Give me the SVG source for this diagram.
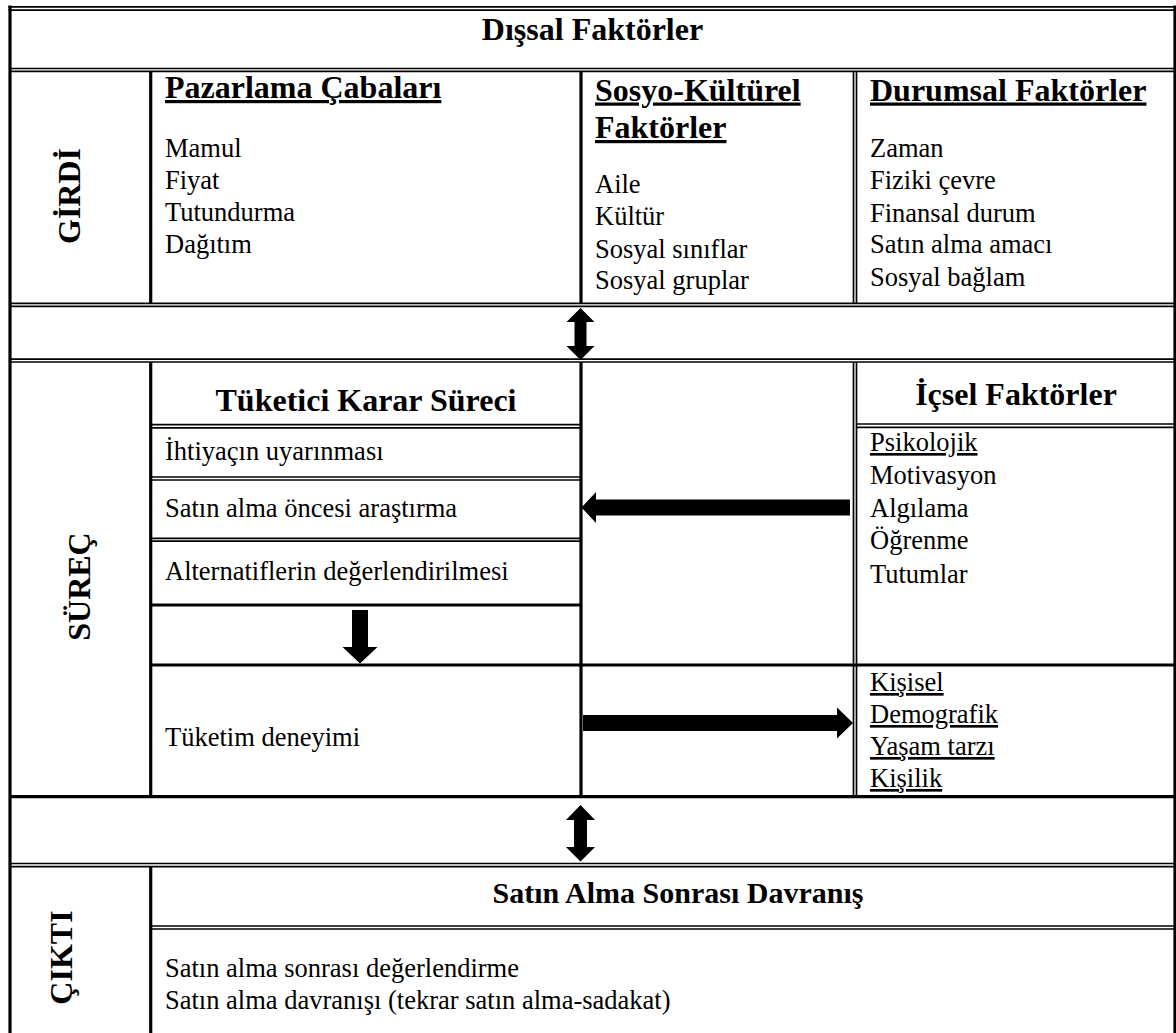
<svg xmlns="http://www.w3.org/2000/svg" width="1176" height="1033" viewBox="0 0 1176 1033">
  <style>
    .thin { stroke: #000; stroke-width: 1.7; fill: none; }
    .thick { stroke: #000; stroke-width: 3.2; fill: none; }
    .arrow { fill: #000; }
    text { font-family: "Liberation Serif", "Times New Roman", serif; fill: #000; }
    .h { font-size: 32px; font-weight: bold; }
    .h2 { font-size: 30px; font-weight: bold; }
    .b { font-size: 26.5px; }
    .uh { text-decoration: underline; text-decoration-thickness: 2.7px; text-underline-offset: 5px; }
    .ub { text-decoration: underline; text-decoration-thickness: 1.5px; text-underline-offset: 2px; }
    .mid { text-anchor: middle; }
  </style>

  <rect x="0" y="0" width="1176" height="1033" fill="#fff"/>

  <!-- table rules -->
  <g id="table-grid">
    <!-- outer frame -->
    <line class="thin" x1="8.5" y1="6.8" x2="1176" y2="6.8"/>
    <line class="thin" x1="8.5" y1="10.2" x2="1176" y2="10.2"/>
    <line class="thick" x1="10" y1="5.5" x2="10" y2="1033"/>
    <line class="thick" x1="1175" y1="5.5" x2="1175" y2="1033"/>

    <!-- row separators -->
    <line class="thin" x1="10" y1="68.5" x2="1176" y2="68.5"/>
    <line class="thin" x1="10" y1="71.4" x2="1176" y2="71.4"/>
    <line class="thin" x1="10" y1="303.3" x2="1176" y2="303.3"/>
    <line class="thin" x1="10" y1="306.3" x2="1176" y2="306.3"/>
    <line class="thin" x1="10" y1="359.2" x2="1176" y2="359.2"/>
    <line class="thin" x1="10" y1="362" x2="1176" y2="362"/>
    <line class="thick" x1="10" y1="796.7" x2="1176" y2="796.7"/>
    <line class="thin" x1="10" y1="863.5" x2="1176" y2="863.5"/>
    <line class="thin" x1="10" y1="866.6" x2="1176" y2="866.6"/>

    <!-- column separators: input row -->
    <line class="thick" x1="150.7" y1="71.4" x2="150.7" y2="303.3"/>
    <line class="thick" x1="581" y1="71.4" x2="581" y2="303.3"/>
    <line class="thin" x1="853.5" y1="71.4" x2="853.5" y2="303.3"/>
    <line class="thin" x1="856.5" y1="71.4" x2="856.5" y2="303.3"/>

    <!-- column separators: process row -->
    <line class="thick" x1="150.7" y1="362" x2="150.7" y2="796.7"/>
    <line class="thick" x1="581" y1="362" x2="581" y2="796.7"/>
    <line class="thin" x1="853.5" y1="362" x2="853.5" y2="796.7"/>
    <line class="thin" x1="856.5" y1="362" x2="856.5" y2="796.7"/>

    <!-- decision process sub-rows -->
    <line class="thin" x1="150.7" y1="424.6" x2="581" y2="424.6"/>
    <line class="thin" x1="150.7" y1="427.8" x2="581" y2="427.8"/>
    <line class="thin" x1="150.7" y1="477" x2="581" y2="477"/>
    <line class="thin" x1="150.7" y1="480" x2="581" y2="480"/>
    <line class="thin" x1="150.7" y1="538.3" x2="581" y2="538.3"/>
    <line class="thin" x1="150.7" y1="541.2" x2="581" y2="541.2"/>
    <line class="thick" x1="150.7" y1="605" x2="581" y2="605"/>
    <line class="thick" x1="150.7" y1="665" x2="1176" y2="665"/>

    <!-- internal factors header -->
    <line class="thin" x1="856.5" y1="424" x2="1176" y2="424"/>
    <line class="thin" x1="856.5" y1="427.4" x2="1176" y2="427.4"/>

    <!-- output row -->
    <line class="thick" x1="150.7" y1="866.6" x2="150.7" y2="1033"/>
    <line class="thin" x1="150.7" y1="926" x2="1176" y2="926"/>
    <line class="thin" x1="150.7" y1="929" x2="1176" y2="929"/>
  </g>

  <!-- connectors -->
  <g id="connectors">
    <!-- inputs <-> process -->
    <polygon class="arrow" points="580.5,308 594.5,322 586.5,322 586.5,346 594.5,346 580.5,360 566.5,346 574.5,346 574.5,322 566.5,322"/>
    <!-- internal factors -> pre-purchase search -->
    <polygon class="arrow" points="581.5,507.5 596,492 596,499.5 850,499.5 850,515.5 596,515.5 596,523"/>
    <!-- evaluation -> consumption -->
    <polygon class="arrow" points="352,610 368,610 368,647 377.5,647 360,663.5 342.5,647 352,647"/>
    <!-- consumption -> personal factors -->
    <polygon class="arrow" points="583,715 837,715 837,707.5 853,723 837,738.5 837,731 583,731"/>
    <!-- process <-> output -->
    <polygon class="arrow" points="580.5,805 595,820 587,820 587,847 595,847 580.5,861.5 566,847 574,847 574,820 566,820"/>
  </g>

  <!-- external factors header -->
  <g id="external-factors">
    <text class="h mid" x="592.5" y="40">Dışsal Faktörler</text>
  </g>

  <!-- input row -->
  <g id="input-label">
    <text class="h mid" transform="translate(80,196) rotate(-90)">GİRDİ</text>
  </g>
  <g id="marketing-efforts">
    <text class="h uh" x="165" y="98">Pazarlama Çabaları</text>
    <text class="b" x="165" y="157">Mamul</text>
    <text class="b" x="165" y="189">Fiyat</text>
    <text class="b" x="165" y="221">Tutundurma</text>
    <text class="b" x="165" y="253">Dağıtım</text>
  </g>
  <g id="socio-cultural-factors">
    <text class="h uh" x="595" y="100.5">Sosyo-Kültürel</text>
    <text class="h uh" x="595" y="138">Faktörler</text>
    <text class="b" x="595" y="193">Aile</text>
    <text class="b" x="595" y="225">Kültür</text>
    <text class="b" x="595" y="258">Sosyal sınıflar</text>
    <text class="b" x="595" y="289">Sosyal gruplar</text>
  </g>
  <g id="situational-factors">
    <text class="h uh" x="870" y="100.5">Durumsal Faktörler</text>
    <text class="b" x="870" y="157">Zaman</text>
    <text class="b" x="870" y="189">Fiziki çevre</text>
    <text class="b" x="870" y="222">Finansal durum</text>
    <text class="b" x="870" y="253">Satın alma amacı</text>
    <text class="b" x="870" y="286">Sosyal bağlam</text>
  </g>

  <!-- process row -->
  <g id="process-label">
    <text class="h mid" transform="translate(90,586.5) rotate(-90)">SÜREÇ</text>
  </g>
  <g id="decision-process">
    <text class="h mid" x="366" y="411">Tüketici Karar Süreci</text>
  </g>
  <g id="step-need">
    <text class="b" x="165" y="460">İhtiyaçın uyarınması</text>
  </g>
  <g id="step-search">
    <text class="b" x="165" y="517">Satın alma öncesi araştırma</text>
  </g>
  <g id="step-evaluation">
    <text class="b" x="165" y="580">Alternatiflerin değerlendirilmesi</text>
  </g>
  <g id="step-consumption">
    <text class="b" x="165" y="746">Tüketim deneyimi</text>
  </g>
  <g id="internal-factors">
    <text class="h mid" x="1016" y="405">İçsel Faktörler</text>
  </g>
  <g id="psychological-factors">
    <text class="b ub" x="870" y="451">Psikolojik</text>
    <text class="b" x="870" y="484">Motivasyon</text>
    <text class="b" x="870" y="517">Algılama</text>
    <text class="b" x="870" y="549">Öğrenme</text>
    <text class="b" x="870" y="583">Tutumlar</text>
  </g>
  <g id="personal-factors">
    <text class="b ub" x="870" y="691">Kişisel</text>
    <text class="b ub" x="870" y="723">Demografik</text>
    <text class="b ub" x="870" y="755">Yaşam tarzı</text>
    <text class="b ub" x="870" y="787">Kişilik</text>
  </g>

  <!-- output row -->
  <g id="output-label">
    <text class="h mid" transform="translate(72,957.5) rotate(-90)">ÇIKTI</text>
  </g>
  <g id="post-purchase-behaviour">
    <text class="h2 mid" x="678" y="903">Satın Alma Sonrası Davranış</text>
    <text class="b" x="165" y="977">Satın alma sonrası değerlendirme</text>
    <text class="b" x="165" y="1009">Satın alma davranışı (tekrar satın alma-sadakat)</text>
  </g>
</svg>
